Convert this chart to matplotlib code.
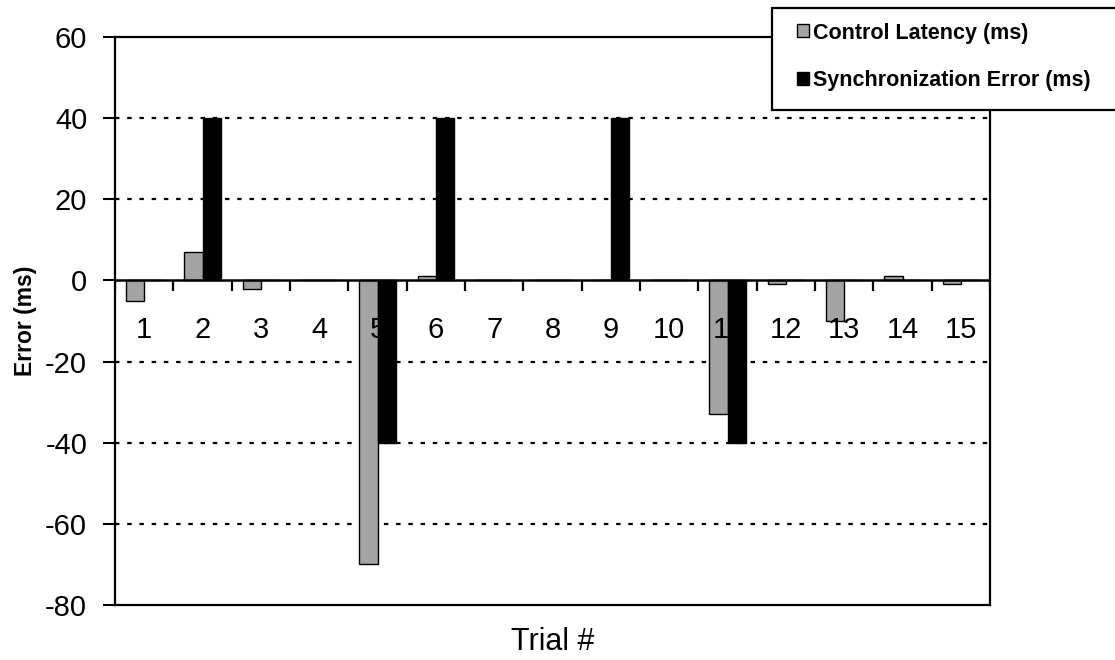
import matplotlib
matplotlib.use("Agg")
import matplotlib.pyplot as plt
from matplotlib.patches import Rectangle
import numpy as np

trials = [str(i) for i in range(1, 16)]
control_latency = [-5, 7, -2, 0, -70, 1, 0, 0, 0, 0, -33, -1, -10, 1, -1]
sync_error = [0, 40, 0, 0, -40, 40, 0, 0, 40, 0, -40, 0, 0, 0, 0]
yticks = [60, 40, 20, 0, -20, -40, -60, -80]
grid_levels = [40, 20, -20, -40, -60]

plt.rcParams['font.family'] = ['Liberation Sans', 'DejaVu Sans']
plt.rcParams['axes.unicode_minus'] = False

fig = plt.figure(figsize=(11.15, 6.6), dpi=100)
ax = fig.add_axes([115/1115, 1-605/660, 875/1115, 568/660])

x = np.arange(1, len(trials) + 1)
w = 0.31
ax.bar(x - w/2, control_latency, w, color='#a3a3a3', edgecolor='black', linewidth=1.0,
       label='Control Latency (ms)', zorder=3)
ax.bar(x + w/2, sync_error, w, color='black', edgecolor='black', linewidth=1.0,
       label='Synchronization Error (ms)', zorder=3)

ax.set_xlim(0.5, len(trials) + 0.5)
ax.set_ylim(-80, 60)
ax.set_yticks(yticks)
ax.set_yticklabels([str(v) for v in yticks])
ax.tick_params(axis='y', labelsize=21, length=9, width=1.5, direction='out', pad=11)
ax.set_xticks([])

for lv in grid_levels:
    ax.axhline(lv, color='black', linestyle=(0, (2, 3.5)), linewidth=1.6, zorder=1)
ax.axhline(0, color='black', linewidth=1.8, zorder=4)
ax.vlines(np.arange(0.5, len(trials) + 1, 1.0), -2.6, 0, color='black', linewidth=1.6, zorder=4)
for xi, lab in zip(x, trials):
    ax.text(xi, -12.3, lab, ha='center', va='center', fontsize=21, zorder=5)

for s in ax.spines.values():
    s.set_linewidth(1.6)

ax.set_ylabel('Error (ms)', fontsize=16.5, fontweight='bold')
ax.yaxis.set_label_coords(-78/875, 0.5)
ax.set_xlabel('Trial #', fontsize=22, labelpad=16)

fig.patches.append(Rectangle((772/1115, 1-110/660), 350/1115, 102/660, transform=fig.transFigure,
                             fill=True, facecolor='white', edgecolor='black', linewidth=1.6, zorder=10))
leg = fig.legend(loc='center left', bbox_to_anchor=(797/1115, 1-57/660), frameon=False,
                 prop={'weight': 'bold', 'size': 15.5}, handlelength=0.55, handleheight=0.55,
                 handletextpad=0.2, labelspacing=1.25, borderpad=0, borderaxespad=0)
leg.set_zorder(11)

fig.savefig('out.png', dpi=100)
